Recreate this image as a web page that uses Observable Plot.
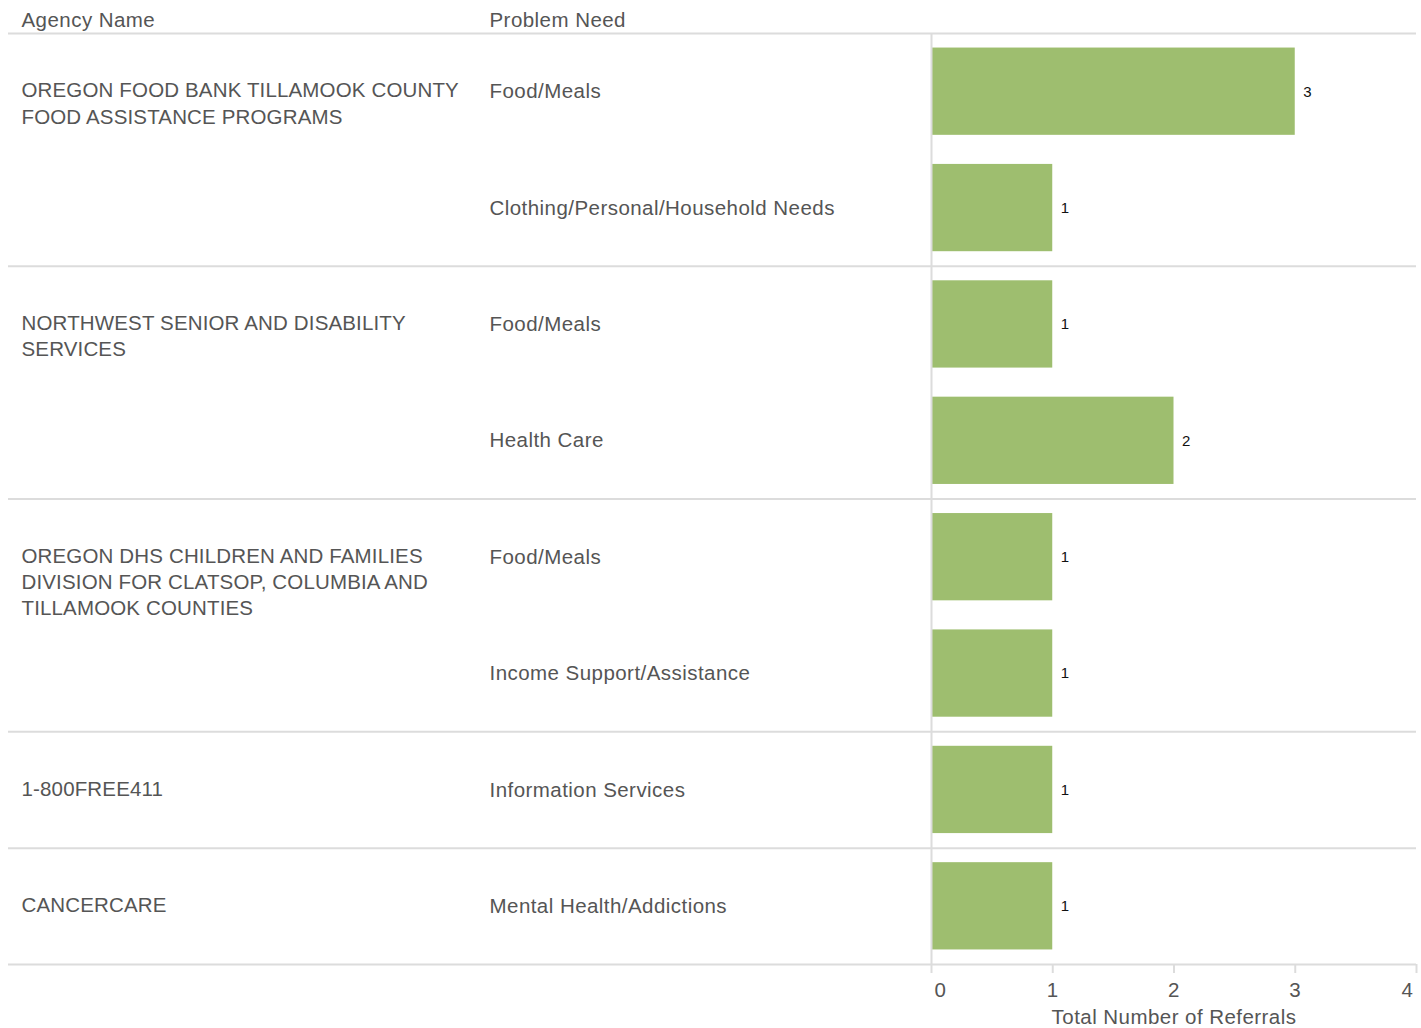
<!DOCTYPE html>
<html>
<head>
<meta charset="utf-8">
<script src="https://cdn.jsdelivr.net/npm/d3@7"></script>
<script src="https://cdn.jsdelivr.net/npm/@observablehq/plot@0.6"></script>
<style>
  html, body { margin: 0; padding: 0; background: #fff; }
  #chart svg { display: block; }
  #chart svg text { letter-spacing: 0.45px; }
  #chart svg .caps text, #chart svg text.caps, #chart svg .caps tspan { letter-spacing: 0.15px; }
</style>
</head>
<body>
<div id="chart"></div>
<script>
// ---- data ----
const agencies = [
  "OREGON FOOD BANK TILLAMOOK COUNTY\nFOOD ASSISTANCE PROGRAMS",
  "NORTHWEST SENIOR AND DISABILITY\nSERVICES",
  "OREGON DHS CHILDREN AND FAMILIES\nDIVISION FOR CLATSOP, COLUMBIA AND\nTILLAMOOK COUNTIES",
  "1-800FREE411",
  "CANCERCARE"
];
const needs = [
  "Food/Meals",
  "Clothing/Personal/Household Needs",
  "Food/Meals",
  "Health Care",
  "Food/Meals",
  "Income Support/Assistance",
  "Information Services",
  "Mental Health/Addictions"
];
const needAgency = [0, 0, 1, 1, 2, 2, 3, 4];
const referrals = [3, 1, 1, 2, 1, 1, 1, 1];
const xTicks = [0, 1, 2, 3, 4];
const headers = ["Agency Name", "Problem Need"];
const xLabel = "Total Number of Referrals";

// ---- derived tables ----
const rows = needs.map((need, i) => ({row: i, agency: agencies[needAgency[i]], need, value: referrals[i]}));
const groupStarts = agencies.map((a, g) => rows.find(r => needAgency[r.row] === g));
const boundaries = [0, ...agencies.map((a, g) => {
  const last = rows.filter(r => needAgency[r.row] === g).pop();
  return last.row + 1;
})];

const textColor = "#555555";
const lineColor = "#dcdcdc";
const font = "'Helvetica Neue', Helvetica, 'Liberation Sans', Arial, sans-serif";
const fs = 20.5;

const tickLabel = (ticks, dx) => Plot.text(ticks, {
  x: d => d, text: d => String(d), frameAnchor: "bottom", lineAnchor: "middle",
  dy: 26, dx, fontSize: fs, fill: textColor
});

const chart = Plot.plot({
  width: 1421,
  height: 1028,
  marginLeft: 8,
  marginRight: 5,
  marginTop: 33,
  marginBottom: 64,
  style: {fontFamily: font, fontSize: "20px", color: textColor, background: "#fff"},
  x: {domain: [0, 4], range: [931, 1416]},
  y: {domain: [0, needs.length], range: [33, 964], axis: null},
  marks: [
    Plot.ruleY(boundaries, {y: d => d, stroke: lineColor, strokeWidth: 2}),
    Plot.rectX(rows, {
      x1: 0, x2: "value",
      y1: d => d.row + 0.125, y2: d => d.row + 0.875,
      fill: "#9ebe6f", insetLeft: 1
    }),
    Plot.ruleX([0], {y1: 0, y2: needs.length, stroke: lineColor, strokeWidth: 2}),
    Plot.axisX(xTicks, {tickSize: 9, tickFormat: () => "", stroke: lineColor, strokeWidth: 2, label: null}),
    tickLabel([1, 2, 3], 0),
    tickLabel([0], 9),
    tickLabel([4], -9),
    Plot.text([xLabel], {x: () => 2, text: d => d, frameAnchor: "bottom", lineAnchor: "middle", dy: 53, fontSize: fs, fill: textColor}),
    Plot.text([headers[0]], {text: d => d, frameAnchor: "top-left", lineAnchor: "middle", dx: 13, dy: -13, textAnchor: "start", fontSize: fs, fill: textColor}),
    Plot.text([headers[1]], {text: d => d, frameAnchor: "top-left", lineAnchor: "middle", dx: 481, dy: -13, textAnchor: "start", fontSize: fs, fill: textColor}),
    Plot.text(groupStarts, {
      y: d => d.row + 0.5, text: "agency", frameAnchor: "left", dx: 13,
      textAnchor: "start", lineAnchor: "top", dy: -13, lineHeight: 1.28,
      fontSize: fs, fill: textColor, className: "caps"
    }),
    Plot.text(rows, {
      y: d => d.row + 0.5, text: "need", frameAnchor: "left", dx: 481,
      textAnchor: "start", lineAnchor: "middle", fontSize: fs, fill: textColor
    }),
    Plot.text(rows, {
      x: "value", y: d => d.row + 0.5, text: d => String(d.value),
      dx: 8, textAnchor: "start", lineAnchor: "middle", fontSize: 15, fill: "#111"
    })
  ]
});
document.getElementById("chart").appendChild(chart);
</script>
</body>
</html>
